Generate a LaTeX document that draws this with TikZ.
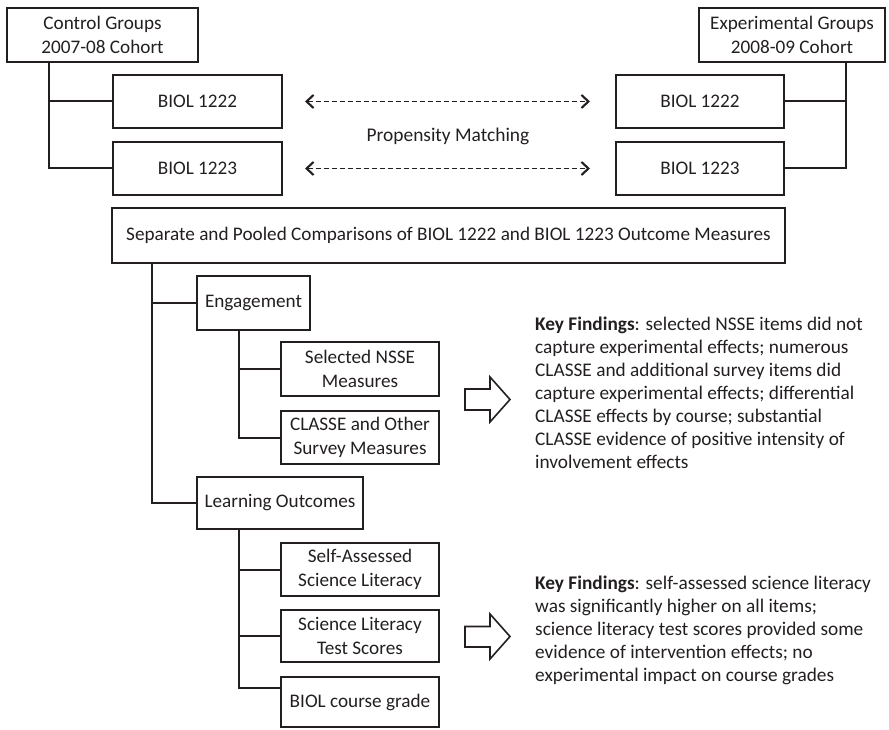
\documentclass[tikz,border=0pt]{standalone}
\usepackage{fontspec}
\setmainfont{Carlito}
\usetikzlibrary{arrows.meta}
\definecolor{ink}{HTML}{231F20}
\begin{document}
\begin{tikzpicture}[x=1pt,y=-1pt,
  font=\fontsize{19.4}{23.5}\selectfont,
  box/.style={draw=ink,line width=2.9pt,text=ink,inner sep=0pt,align=center,font=\fontsize{19.2}{23.5}\selectfont},
  conn/.style={draw=ink,line width=2pt},
  match/.style={draw=ink,line width=1.8pt,dash pattern=on 5pt off 3pt,{Straight Barb[length=7pt,width=13pt,line width=2.1pt]}-{Straight Barb[length=7pt,width=13pt,line width=2.1pt]}},
  hollow/.style={draw=ink,line width=1.6pt,fill=white,line join=miter},
  finding/.style={anchor=north west,inner sep=0pt,align=left,text=ink,font=\fontsize{19.3}{23}\selectfont}
]
\useasboundingbox (0,0) rectangle (889,730);
% top level
\node[box,minimum width=191pt,minimum height=54pt] (ctrl) at (102.5,35) {Control Groups\\2007-08 Cohort};
\node[box,minimum width=186pt,minimum height=54pt] (exp) at (792,35) {Experimental Groups\\2008-09 Cohort};
\node[box,minimum width=169pt,minimum height=53pt] (l1222) at (197.5,101.5) {BIOL 1222};
\node[box,minimum width=169pt,minimum height=53pt] (l1223) at (197.5,168.5) {BIOL 1223};
\node[box,minimum width=168pt,minimum height=53pt] (r1222) at (700,101.5) {BIOL 1222};
\node[box,minimum width=168pt,minimum height=53pt] (r1223) at (700,168.5) {BIOL 1223};
\node[text=ink] (pm) at (448,136) {Propensity Matching};
\coordinate (m1l) at (305,101.5);
\coordinate (m1r) at (590,101.5);
\coordinate (m2l) at (305,168.5);
\coordinate (m2r) at (590,168.5);
\draw[match] (m1l) -- (m1r);
\draw[match] (m2l) -- (m2r);
% connectors top
\coordinate (cA) at (49,101.5);
\coordinate (eA) at (846,101.5);
\draw[conn] (ctrl.south -| cA) |- (l1223.west);
\draw[conn] (cA) -- (l1222.west);
\draw[conn] (exp.south -| eA) |- (r1223.east);
\draw[conn] (eA) -- (r1222.east);
% comparisons
\node[box,minimum width=673pt,minimum height=55pt] (sep) at (448.5,235.5) {Separate and Pooled Comparisons of BIOL 1222 and BIOL 1223 Outcome Measures};
\node[box,minimum width=113pt,minimum height=54pt] (eng) at (253.5,303) {Engagement};
\node[box,minimum width=158pt,minimum height=54pt] (nsse) at (360,369) {Selected NSSE\\Measures};
\node[box,minimum width=158pt,minimum height=53pt] (classe) at (360,437.5) {CLASSE and Other\\Survey Measures};
\node[box,minimum width=166pt,minimum height=52pt] (learn) at (280,503) {Learning Outcomes};
\node[box,minimum width=158pt,minimum height=53pt] (self) at (360,569.5) {Self-Assessed\\Science Literacy};
\node[box,minimum width=158pt,minimum height=52pt] (scilit) at (360,636) {Science Literacy\\Test Scores};
\node[box,minimum width=158pt,minimum height=50pt] (grade) at (360,702) {BIOL course grade};
\coordinate (sA) at (152,303);
\coordinate (gA) at (239,369);
\coordinate (lA) at (239,569.5);
\coordinate (lB) at (239,636);
\coordinate (gradeIn) at (281,688);
\draw[conn] (sep.south -| sA) |- (learn.west);
\draw[conn] (sA) -- (eng.west);
\draw[conn] (eng.south -| gA) |- (classe.west);
\draw[conn] (gA) -- (nsse.west);
\draw[conn] (learn.south -| lA) |- (gradeIn);
\draw[conn] (lA) -- (self.west);
\draw[conn] (lB) -- (scilit.west);
% hollow arrows
\draw[hollow] (465,389) -- (490,389) -- (490,377) -- (510,399.5) -- (490,422) -- (490,410) -- (465,410) -- cycle;
\draw[hollow] (465,626.5) -- (490,626.5) -- (490,614) -- (510,636.5) -- (490,659) -- (490,647) -- (465,647) -- cycle;
% findings
\node[finding] (kf1) at (535,317) {\textbf{Key Findings}: selected NSSE items did not\\capture experimental effects; numerous\\CLASSE and additional survey items did\\capture experimental effects; differential\\CLASSE effects by course; substantial\\CLASSE evidence of positive intensity of\\involvement effects};
\node[finding] (kf2) at (535,576) {\textbf{Key Findings}: self-assessed science literacy\\was significantly higher on all items;\\science literacy test scores provided some\\evidence of intervention effects; no\\experimental impact on course grades};
\end{tikzpicture}
\end{document}
